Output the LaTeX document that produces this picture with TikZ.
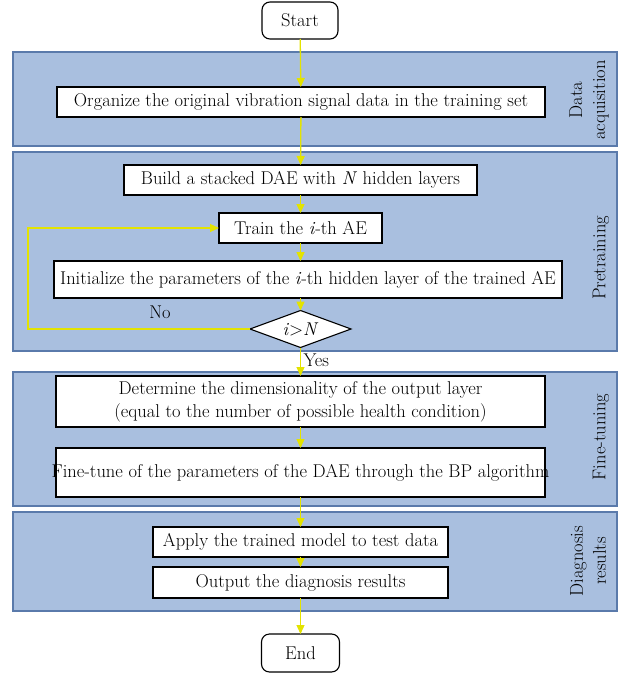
\documentclass[tikz,border=0pt]{standalone}
\usepackage{fontspec}
\usetikzlibrary{arrows.meta,shapes.geometric}
\definecolor{panelfill}{HTML}{A9BFDF}
\definecolor{panelline}{HTML}{5A7AAB}
\definecolor{flowline}{HTML}{E3E300}
\begin{document}
\begin{tikzpicture}[x=1pt,y=-1pt,inner sep=0pt,outer sep=0pt,
font=\fontsize{18.5}{23}\selectfont,
>={Triangle[length=9pt,width=8pt]},
panel/.style={draw=panelline,fill=panelfill,line width=1.4pt},
stepbox/.style={draw,rectangle,fill=white,line width=1.1pt,align=center},
termbox/.style={draw,rectangle,rounded corners=8pt,fill=white,line width=1.1pt},
testbox/.style={draw,diamond,aspect=2.7,fill=white,line width=1.1pt,minimum width=101pt,minimum height=37pt},
flow/.style={flowline,line width=1.3pt},
phase/.style={rotate=90,align=center}]
\useasboundingbox (0,0) rectangle (629,674);

% stages
\draw[panel] (13,52) rectangle (617,146);
\draw[panel] (13,152) rectangle (617,351);
\draw[panel] (13,372) rectangle (617,506);
\draw[panel] (13,512) rectangle (617,611);
\draw (589,100) node[phase] (lbl1) {Data\\acquisition};
\draw (601,258) node[phase] (lbl2) {Pretraining};
\draw (601,437) node[phase] (lbl3) {Fine-tuning};
\draw (588,561) node[phase] (lbl4) {Diagnosis\\results};

\draw (300,20.5) node[termbox,minimum width=76pt,minimum height=37pt] (start) {Start};
\draw (301,102) node[stepbox,minimum width=488pt,minimum height=30pt] (org) {Organize the original vibration signal data in the training set};
\draw (300.5,180) node[stepbox,minimum width=353pt,minimum height=30pt] (build) {Build a stacked DAE with \textit{N} hidden layers};
\draw (300.5,228) node[stepbox,minimum width=163pt,minimum height=30pt] (train) {Train the \textit{i}-th AE};
\draw (308,279.5) node[stepbox,minimum width=508pt,minimum height=37pt] (init) {Initialize the parameters of the \textit{i}-th hidden layer of the trained AE};
\draw (300.5,329) node[testbox] (test) {\textit{i}>\textit{N}};
\draw (300.5,401.5) node[stepbox,minimum width=489pt,minimum height=51pt] (dim) {Determine the dimensionality of the output layer\\(equal to the number of possible health condition)};
\draw (300.5,472.5) node[stepbox,minimum height=49pt] (tune) {\makebox[489pt]{Fine-tune of the parameters of the DAE through the BP algorithm}};
\draw (300.5,542) node[stepbox,minimum width=295pt,minimum height=30pt] (apply) {Apply the trained model to test data};
\draw (300.5,582.5) node[stepbox,minimum width=295pt,minimum height=31pt] (out) {Output the diagnosis results};
\draw (300.5,653) node[termbox,minimum width=78pt,minimum height=38pt] (end) {End};

\draw[flow,->] (start) -- (org);
\draw[flow,->] (org) -- (build);
\draw[flow,->] (build) -- (train);
\draw[flow,->] (train) -- (train |- init.north);
\draw[flow,->] (test |- init.south) -- (test);
\draw[flow,->] (test) -- (dim) node[pos=0.45,right=3pt,black] {Yes};
\draw[flow,->] (test.west) -- (28,329) |- (train.west);
\draw (160,312) node (no) {No};
\draw[flow,->] (dim) -- (tune);
\draw[flow,->] (tune) -- (apply);
\draw[flow,->] (apply) -- (out);
\draw[flow,->] (out) -- (end);
\end{tikzpicture}
\end{document}
